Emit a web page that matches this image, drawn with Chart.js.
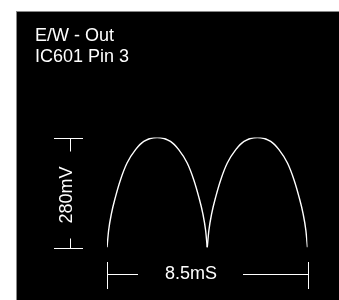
<!DOCTYPE html>
<html>
<head>
<meta charset="utf-8">
<script src="https://cdn.jsdelivr.net/npm/chart.js@4"></script>
<style>
  body { margin: 0; background: #fff; }
  #scope {
    position: absolute; left: 16px; top: 11px; width: 323px; height: 289px;
    background: #000; border-left: 1px solid #888; border-top: 1px solid #888;
    box-sizing: border-box;
  }
  #wrap { position: absolute; left: 0; top: 0; width: 339px; height: 300px; }
</style>
</head>
<body>
<div id="scope"></div>
<div id="wrap"><canvas id="trace"></canvas></div>
<script>
// time in mS, voltage in mV
const timeMs = [0, 0.07, 0.19, 0.36, 0.57, 0.85, 1.21, 1.56, 2.125, 2.69, 3.04, 3.40, 3.68, 3.89, 4.06, 4.18, 4.25,
                4.32, 4.44, 4.61, 4.82, 5.10, 5.46, 5.81, 6.375, 6.94, 7.29, 7.65, 7.93, 8.14, 8.31, 8.43, 8.5];
const voltsMv = [0, 44, 87, 129, 172, 215, 249, 270, 280, 270, 249, 215, 172, 129, 87, 44, 0,
                 44, 87, 129, 172, 215, 249, 270, 280, 270, 249, 215, 172, 129, 87, 44, 0];
const cuspIndex = 16;

const titleLines = ['E/W - Out', 'IC601 Pin 3'];
const voltLabel = '280mV';
const voltSpan = 280;
const timeLabel = '8.5mS';
const timeSpan = 8.5;

const FONT = '18px "Liberation Sans", Arial, sans-serif';

const points = timeMs.map((t, i) => ({x: t, y: voltsMv[i]}));

const arch = (pts) => ({
    data: pts,
    borderColor: '#fff',
    borderWidth: 1.4,
    pointRadius: 0,
    cubicInterpolationMode: 'monotone',
    fill: false
});

const markings = {
    id: 'markings',
    afterDraw(chart) {
        const {ctx, scales: {x, y}} = chart;
        ctx.save();
        ctx.fillStyle = '#fff';
        ctx.strokeStyle = '#fff';
        ctx.lineWidth = 1;
        ctx.font = FONT;

        // title
        ctx.textAlign = 'left';
        ctx.textBaseline = 'alphabetic';
        titleLines.forEach((line, i) => ctx.fillText(line, 35, 40.5 + i * 21));

        // voltage bracket
        const yTop = Math.round(y.getPixelForValue(voltSpan)) + 0.5;
        const yBot = Math.round(y.getPixelForValue(0)) + 0.5;
        ctx.beginPath();
        ctx.moveTo(54, yTop); ctx.lineTo(83, yTop);
        ctx.moveTo(70.5, yTop); ctx.lineTo(70.5, yTop + 13);
        ctx.moveTo(54, yBot); ctx.lineTo(83, yBot);
        ctx.moveTo(70.5, yBot); ctx.lineTo(70.5, yBot - 10);
        ctx.stroke();

        ctx.save();
        ctx.translate(67.5, 195);
        ctx.rotate(-Math.PI / 2);
        ctx.textAlign = 'center';
        ctx.textBaseline = 'middle';
        ctx.fillText(voltLabel, 0, 0);
        ctx.restore();

        // time bracket
        const xL = Math.round(x.getPixelForValue(0)) + 0.5;
        const xR = Math.round(x.getPixelForValue(timeSpan)) + 0.5;
        const yT = 274.5;
        ctx.beginPath();
        ctx.moveTo(xL, 262); ctx.lineTo(xL, 289);
        ctx.moveTo(xL, yT); ctx.lineTo(138, yT);
        ctx.moveTo(243, yT); ctx.lineTo(xR, yT);
        ctx.moveTo(xR, 262); ctx.lineTo(xR, 289);
        ctx.stroke();

        ctx.textAlign = 'center';
        ctx.textBaseline = 'middle';
        ctx.fillText(timeLabel, 191, 274);
        ctx.restore();
    }
};

new Chart(document.getElementById('trace'), {
    type: 'line',
    data: {
        datasets: [
            arch(points.slice(0, cuspIndex + 1)),
            arch(points.slice(cuspIndex))
        ]
    },
    options: {
        responsive: true,
        maintainAspectRatio: false,
        animation: false,
        events: [],
        layout: {
            padding: {left: 107, right: 31.5, top: 137.5, bottom: 52.5}
        },
        plugins: {
            legend: {display: false},
            tooltip: {enabled: false}
        },
        scales: {
            x: {type: 'linear', min: 0, max: timeSpan, display: false},
            y: {min: 0, max: voltSpan, display: false}
        }
    },
    plugins: [markings]
});
</script>
</body>
</html>
